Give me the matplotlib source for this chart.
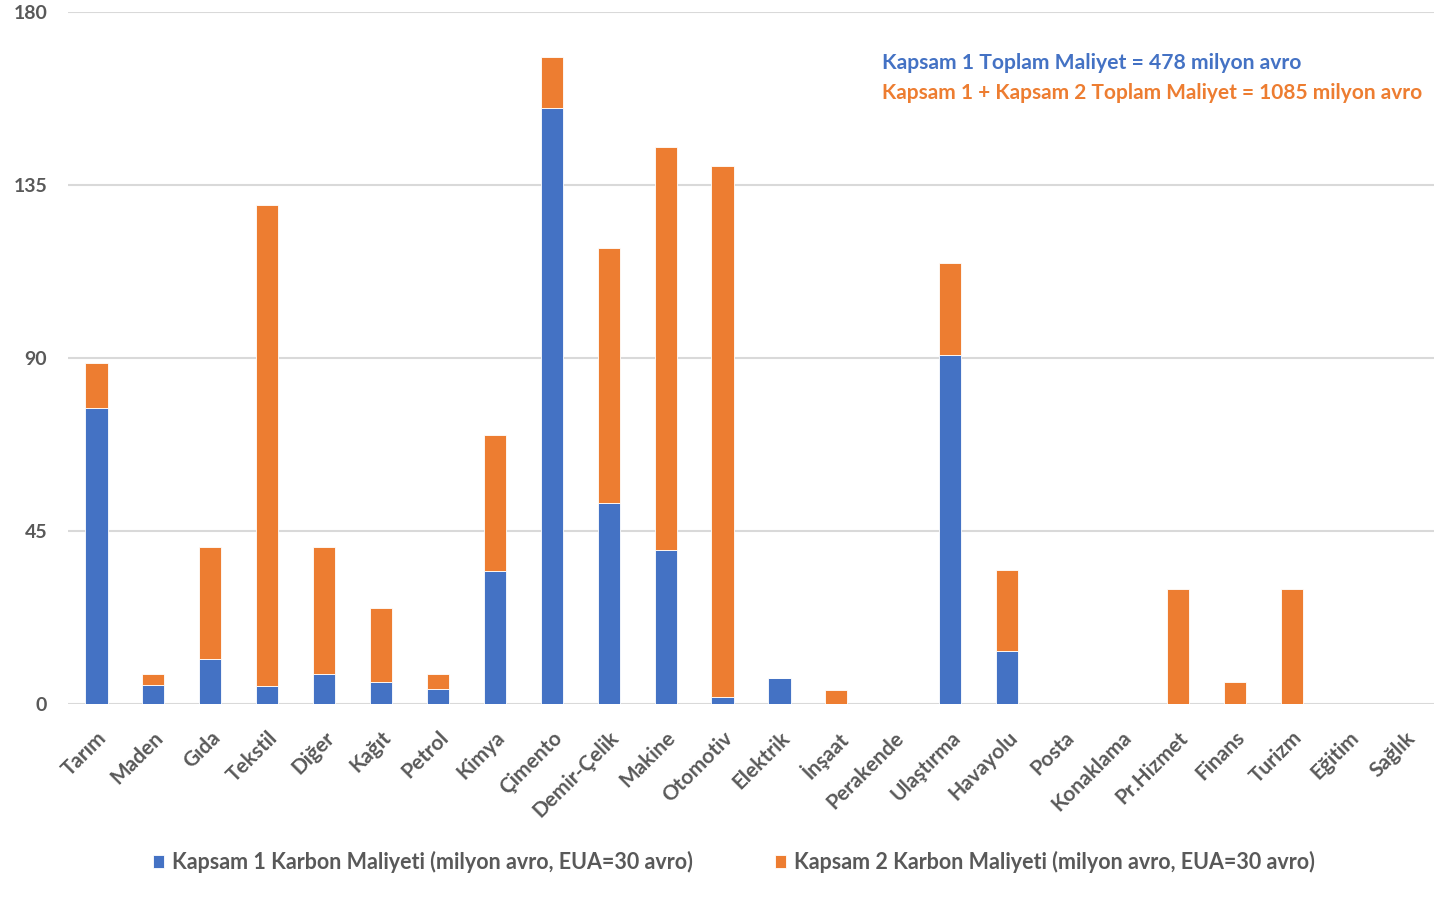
import matplotlib.pyplot as plt
import numpy as np

plt.rcParams['font.family'] = ['Lato', 'DejaVu Sans']

sektorler = ['Tarım', 'Maden', 'Gıda', 'Tekstil', 'Diğer', 'Kağıt', 'Petrol', 'Kimya',
             'Çimento', 'Demir-Çelik', 'Makine', 'Otomotiv', 'Elektrik', 'İnşaat',
             'Perakende', 'Ulaştırma', 'Havayolu', 'Posta', 'Konaklama', 'Pr.Hizmet',
             'Finans', 'Turizm', 'Eğitim', 'Sağlık']
kapsam1 = [77, 4.9, 11.7, 4.7, 7.8, 5.7, 3.9, 34.6, 155, 52.3, 40, 1.8, 6.8, 0,
           0, 90.8, 13.8, 0, 0, 0, 0, 0, 0, 0]
kapsam2 = [11.7, 2.9, 29.1, 125.1, 33, 19.3, 3.9, 35.4, 13.3, 66.3, 104.9, 138.2, 0, 3.6,
           0, 23.9, 21.1, 0, 0, 29.9, 5.7, 29.9, 0, 0]

mavi = '#4472C4'
turuncu = '#ED7D31'
gri = '#595959'

fig = plt.figure(figsize=(14.34, 9.0), dpi=100)
ax = fig.add_axes([68 / 1434, 196 / 900, 1 - 68 / 1434, 692 / 900])

x = np.arange(len(sektorler))
ax.bar(x, kapsam1, width=0.39, color=mavi, edgecolor='white', linewidth=0.6,
       label='Kapsam 1 Karbon Maliyeti (milyon avro, EUA=30 avro)', zorder=3)
ax.bar(x, kapsam2, width=0.39, bottom=kapsam1, color=turuncu, edgecolor='white',
       linewidth=0.6, label='Kapsam 2 Karbon Maliyeti (milyon avro, EUA=30 avro)', zorder=3)

ax.set_ylim(0, 180)
ax.set_yticks([0, 45, 90, 135, 180])
ax.set_xlim(-0.5, len(sektorler) - 0.5)
ax.grid(axis='y', color='#D9D9D9', linewidth=1.5, zorder=0)
for s in ax.spines.values():
    s.set_visible(False)
ax.tick_params(length=0)
ax.tick_params(axis='y', labelsize=14, labelcolor=gri, pad=15)
ax.tick_params(axis='x', pad=17)
ax.set_xticks(x)
ax.set_xticklabels(sektorler, rotation=45, ha='right', rotation_mode='anchor',
                   fontsize=15, color=gri, fontweight='bold')
for t in ax.get_yticklabels():
    t.set_fontweight('bold')

# sağ üstteki toplam maliyet notları
fig.text(882 / 1434, 1 - 63 / 900, 'Kapsam 1 Toplam Maliyet = 478 milyon avro',
         color=mavi, fontsize=15.2, fontweight='bold', va='center')
fig.text(882 / 1434, 1 - 93 / 900, 'Kapsam 1 + Kapsam 2 Toplam Maliyet = 1085 milyon avro',
         color=turuncu, fontsize=15.0, fontweight='bold', va='center')

leg = fig.legend(loc='center', bbox_to_anchor=(734 / 1434, 1 - 862 / 900), ncol=2,
                 frameon=False, fontsize=15.5, handlelength=0.5, handleheight=0.5,
                 handletextpad=0.4, columnspacing=3.8)
for t in leg.get_texts():
    t.set_color(gri)
    t.set_fontweight('bold')

fig.savefig('out.png', dpi=100)
